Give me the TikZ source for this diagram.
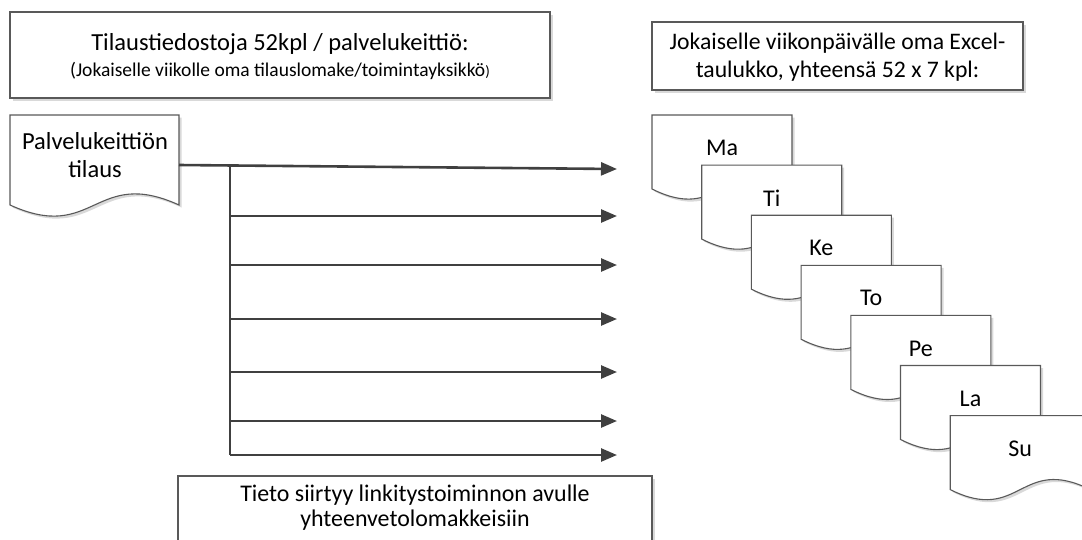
\documentclass[tikz,border=0pt]{standalone}
\usepackage{fontspec}
\setmainfont{Carlito}
\usetikzlibrary{arrows.meta,shadows}

\tikzset{
  boxline/.style={draw=black!65, line width=1.1pt, fill=white,
    drop shadow={shadow xshift=2.5pt,shadow yshift=-2.5pt,fill=black!15,opacity=1}},
  txt/.style={font=\fontsize{24}{27}\selectfont, align=center, inner sep=0pt},
  wire/.style={draw=black!75, line width=2.6pt},
  flow/.style={wire, -{Triangle[length=16pt,width=13pt]}}
}

% document shape: x, y (top left), width, side height, wave amplitude
\newcommand{\docshape}[5]{%
  \draw[boxline] (#1,#2) -- ({#1+#3},#2) -- ({#1+#3},{#2+#4})
    .. controls ({#1+0.5*#3},{#2+#4-3.5*#5}) and ({#1+0.5*#3},{#2+#4+3.5*#5}) .. (#1,{#2+#4}) -- cycle;}

\begin{document}
\begin{tikzpicture}[x=1pt,y=-1pt]
\useasboundingbox (0,0) rectangle (1082,539);
\clip (0,0) rectangle (1082,539);

% headings
\node[boxline, minimum width=540pt, minimum height=86pt] (files) at (280,55) {};
\node[txt, font=\fontsize{24.5}{26}\selectfont] (filestxt) at (280,57) {Tilaustiedostoja 52kpl / palvelukeittiö:\\{\fontsize{19.5}{26}\selectfont (Jokaiselle viikolle oma tilauslomake/toimintayksikkö{\fontsize{15}{15}\selectfont)}}};

\node[boxline, minimum width=371pt, minimum height=68pt] (sheets) at (837.5,56) {};
\node[txt, font=\fontsize{23.7}{28}\selectfont] (sheetstxt) at (837.5,57) {Jokaiselle viikonpäivälle oma Excel-\\taulukko, yhteensä 52 x 7 kpl:};

% order document
\docshape{10}{115}{169}{90}{11}
\node[txt, font=\fontsize{24.5}{28}\selectfont] (order) at (95,155) {Palvelukeittiön\\tilaus};
\coordinate (orderR) at (179,165);

% arrows
\coordinate (split) at (230,165);
\coordinate (trunkend) at (230,455);
\coordinate (t1) at (617,169);
\coordinate (t2) at (617,216);
\coordinate (t3) at (617,265);
\coordinate (t4) at (617,319);
\coordinate (t5) at (617,372);
\coordinate (t6) at (617,421);
\coordinate (t7) at (617,455);

\draw[wire] (split) -- (trunkend);
\draw[flow] (orderR) -- (t1);
\foreach \t in {t2,t3,t4,t5,t6,t7}
  \draw[flow] (split |- \t) -- (\t);

% weekday sheets
\foreach \d [count=\i from 0] in {Ma,Ti,Ke,To,Pe,La,Su} {
  \docshape{652+49.7*\i}{115+50.1*\i}{140}{74}{10}
  \node[txt] (\d) at ({722+49.7*\i},{148+50.1*\i}) {\d};
}

% bottom note
\draw[boxline] (178,476) rectangle (652,580);
\node[txt, font=\fontsize{23.9}{25}\selectfont] (summary) at (415,508) {Tieto siirtyy linkitystoiminnon avulle\\yhteenvetolomakkeisiin};
\end{tikzpicture}
\end{document}
